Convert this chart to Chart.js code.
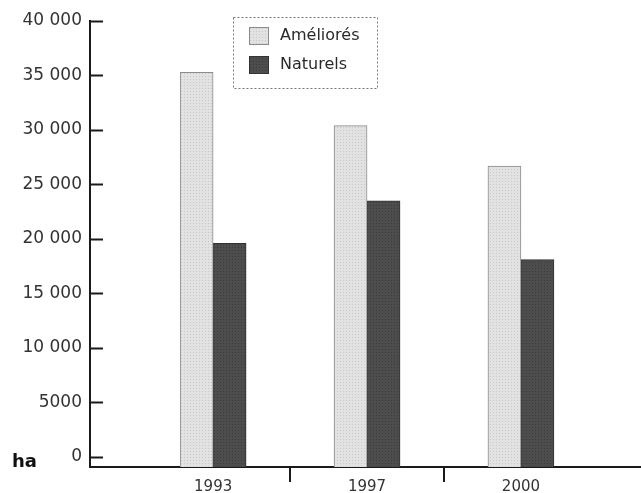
<!DOCTYPE html>
<html>
<head>
<meta charset="utf-8">
<script src="https://cdn.jsdelivr.net/npm/chart.js@4/dist/chart.umd.min.js"></script>
<style>
  body { margin: 0; background: #fff; }
</style>
</head>
<body>
<canvas id="chart" width="641" height="493"></canvas>
<script>
// data (ha)
var years = ['1993', '1997', '2000'];
var ameliores = [35300, 30400, 26700];
var naturels = [19600, 23500, 18100];
var yTickValues = [0, 5000, 10000, 15000, 20000, 25000, 30000, 35000, 40000];
var yTickLabels = ['0', '5000', '10 000', '15 000', '20 000', '25 000', '30 000', '35 000', '40 000'];
var seriesNames = ['Améliorés', 'Naturels'];

var yMin = -920;

// light dotted texture like the original
function dotPattern(bg, dot) {
    var c = document.createElement('canvas');
    c.width = 3; c.height = 3;
    var x = c.getContext('2d');
    x.fillStyle = bg;
    x.fillRect(0, 0, 3, 3);
    x.fillStyle = dot;
    x.fillRect(1, 1, 1, 1);
    return x.createPattern(c, 'repeat');
}

function points(values) {
    return values.map(function (v, i) { return { x: i, y: v }; });
}

var extras = {
    id: 'extras',
    afterDraw: function (chart) {
        var ctx = chart.ctx;
        var area = chart.chartArea;
        var ys = chart.scales.y, xs = chart.scales.x;
        ctx.save();
        ctx.strokeStyle = '#1a1a1a';
        ctx.lineWidth = 2;
        // inward ticks on the y axis
        yTickValues.forEach(function (v) {
            var py = Math.round(ys.getPixelForValue(v)) + 0.5;
            ctx.beginPath();
            ctx.moveTo(area.left, py);
            ctx.lineTo(area.left + 13, py);
            ctx.stroke();
        });
        // separators between years
        for (var i = 0; i < years.length - 1; i++) {
            var px = Math.round(xs.getPixelForValue(i + 0.5));
            ctx.beginPath();
            ctx.moveTo(px, area.bottom);
            ctx.lineTo(px, area.bottom + 15);
            ctx.stroke();
        }
        // unit
        ctx.fillStyle = '#111';
        ctx.font = 'bold 18px "DejaVu Sans"';
        ctx.textBaseline = 'middle';
        ctx.textAlign = 'left';
        ctx.fillText('ha', 12, 462);

        // legend box
        ctx.setLineDash([2, 2]);
        ctx.lineWidth = 1;
        ctx.strokeStyle = '#777';
        ctx.strokeRect(233.5, 17.5, 144, 71);
        ctx.setLineDash([]);
        chart.data.datasets.forEach(function (ds, k) {
            var top = 27 + k * 29;
            ctx.fillStyle = ds.backgroundColor;
            ctx.fillRect(249, top, 20, 18);
            ctx.strokeStyle = ds.borderColor;
            ctx.strokeRect(249.5, top + 0.5, 19, 17);
            ctx.fillStyle = '#2a2a2a';
            ctx.font = '16px "DejaVu Sans"';
            ctx.fillText(ds.label, 280, top + 9);
        });
        ctx.restore();
    }
};

new Chart(document.getElementById('chart'), {
    type: 'bar',
    data: {
        datasets: [{
            label: seriesNames[0],
            data: points(ameliores),
            backgroundColor: dotPattern('#e2e2e2', '#c8c8c8'),
            borderColor: '#8c8c8c',
            borderWidth: 1,
            base: yMin
        }, {
            label: seriesNames[1],
            data: points(naturels),
            backgroundColor: dotPattern('#4d4d4d', '#3a3a3a'),
            borderColor: '#333',
            borderWidth: 1,
            base: yMin
        }]
    },
    plugins: [extras],
    options: {
        responsive: false,
        animation: false,
        layout: { padding: { top: 21, right: 0, left: 0, bottom: 0 } },
        datasets: { bar: { barThickness: 33 } },
        plugins: {
            legend: { display: false },
            tooltip: { enabled: false }
        },
        scales: {
            x: {
                type: 'linear',
                offset: false,
                min: -0.8,
                max: 2.78,
                afterBuildTicks: function (s) {
                    s.ticks = years.map(function (y, i) { return { value: i }; });
                },
                afterFit: function (s) { s.height = 26; },
                grid: { display: false, drawTicks: false },
                border: { display: true, color: '#1a1a1a', width: 2 },
                ticks: {
                    padding: 11,
                    maxRotation: 0,
                    autoSkip: false,
                    color: '#333',
                    font: { family: 'DejaVu Sans', size: 15 },
                    callback: function (v) { return years[v]; }
                }
            },
            y: {
                min: yMin,
                max: 40000,
                afterBuildTicks: function (s) {
                    s.ticks = yTickValues.map(function (v) { return { value: v }; });
                },
                afterFit: function (s) { s.width = 90; },
                grid: { display: false, drawTicks: false },
                border: { display: true, color: '#1a1a1a', width: 2 },
                ticks: {
                    padding: 8,
                    color: '#333',
                    font: { family: 'DejaVu Sans', size: 17 },
                    callback: function (v) { return yTickLabels[yTickValues.indexOf(v)]; }
                }
            }
        }
    }
});
</script>
</body>
</html>
